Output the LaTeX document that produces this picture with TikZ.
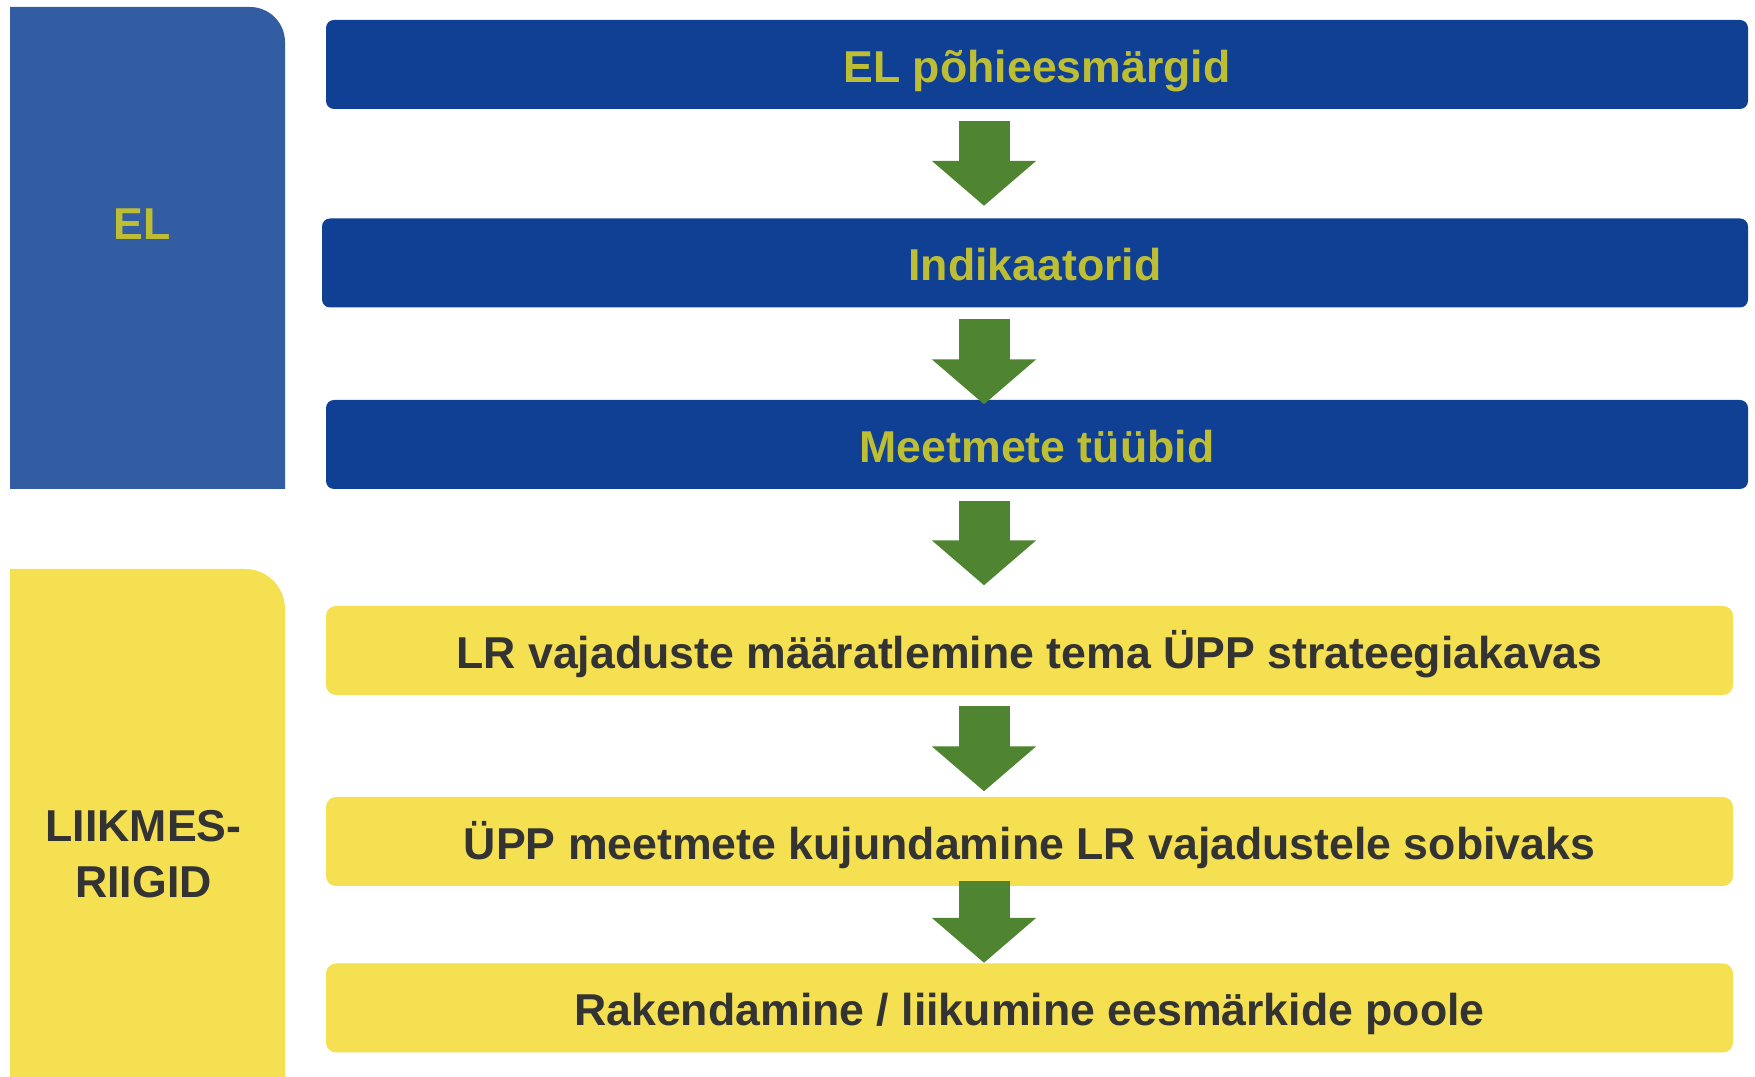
\documentclass[tikz,border=0pt]{standalone}
\usepackage{fontspec}
\setmainfont{Liberation Sans}
\usetikzlibrary{arrows.meta}

\definecolor{panelblue}{RGB}{50,93,163}
\definecolor{boxblue}{RGB}{16,64,147}
\definecolor{paleyellow}{RGB}{244,224,80}
\definecolor{olivetext}{RGB}{190,190,52}
\definecolor{darktext}{RGB}{51,51,51}
\definecolor{arrowgreen}{RGB}{79,132,49}

\tikzset{
  boldtext/.style={font=\fontsize{12.7}{15.9}\selectfont\bfseries},
  stepbox/.style={rectangle, boldtext, minimum height=0.89cm, inner sep=0pt,
    text height=0.36cm, text depth=0pt},
  eubox/.style={stepbox, fill=boxblue, text=olivetext, rounded corners=0.08cm},
  msbox/.style={stepbox, fill=paleyellow, text=darktext, rounded corners=0.1cm, minimum width=14.07cm},
  flowarrow/.style={draw=arrowgreen, line width=0.51cm, -{Triangle[width=1.02cm,length=0.45cm]}},
}

\begin{document}
\begin{tikzpicture}
  \useasboundingbox (0,0) rectangle (17.55,10.77);
  % left panels
  \fill[panelblue] (0.10,5.88) -- (0.10,10.70) -- (2.50,10.70)
    arc[start angle=90, end angle=0, radius=0.35] -- (2.85,5.88) -- cycle;
  \fill[paleyellow] (0.10,0) -- (0.10,5.08) -- (2.45,5.08)
    arc[start angle=90, end angle=0, radius=0.40] -- (2.85,0) -- cycle;
  \node[boldtext, text=olivetext] (el) at (1.42,8.53) {EL};
  \node[boldtext, text=darktext, align=center] (ms) at (1.435,2.23) {LIIKMES-\\RIIGID};

  % steps
  \node[eubox, minimum width=14.22cm] (b1) at (10.37,10.125) {EL põhieesmärgid};
  \node[eubox, minimum width=14.26cm] (b2) at (10.35,8.14) {Indikaatorid};
  \node[eubox, minimum width=14.22cm] (b3) at (10.37,6.325) {Meetmete tüübid};
  \node[msbox] (y1) at (10.295,4.265) {LR vajaduste määratlemine tema ÜPP strateegiakavas};
  \node[msbox] (y2) at (10.295,2.355) {ÜPP meetmete kujundamine LR vajadustele sobivaks};
  \node[msbox] (y3) at (10.295,0.69) {Rakendamine / liikumine eesmärkide poole};

  % arrows
  \coordinate (ax) at (9.84,0);
  \foreach \from/\to/\s/\e in {b1/b2/0.11/0.12, b2/b3/0.11/-0.05, b3/y1/0.11/0.20,
                               y1/y2/0.10/0.05, y2/y3/-0.06/0}
    \draw[flowarrow, shorten <=\s cm, shorten >=\e cm] (\from.south -| ax) -- (\to.north -| ax);
\end{tikzpicture}
\end{document}
